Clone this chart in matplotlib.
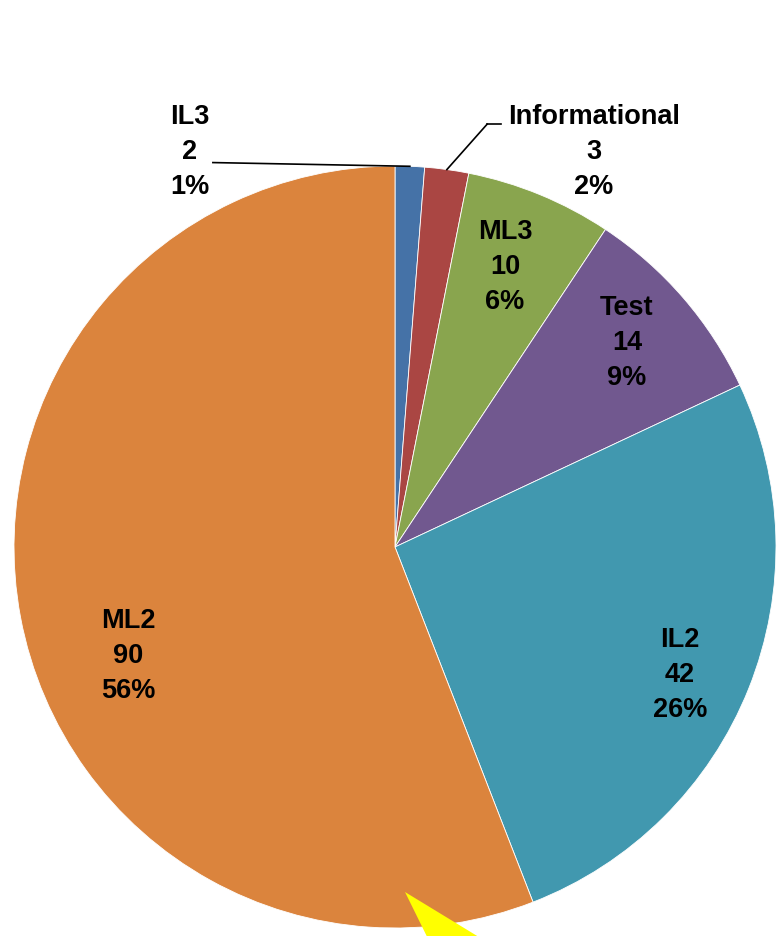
import numpy as np
import matplotlib.pyplot as plt
from matplotlib.patches import Polygon

# data
categories = ['IL3', 'Informational', 'ML3', 'Test', 'IL2', 'ML2']
counts = [2, 3, 10, 14, 42, 90]
percents = ['1%', '2%', '6%', '9%', '26%', '56%']
colors = ['#4572A7', '#AA4643', '#89A54E', '#71588F', '#4198AF', '#DB843D']

# label placement (data units, pie radius = 1)
label_pos = [(-0.538, 1.039), (0.522, 1.039), (0.289, 0.737),
             (0.609, 0.538), (0.748, -0.333), (-0.701, -0.283)]
leader = [True, True, False, False, False, False]

plt.rcParams['font.family'] = ['Liberation Sans', 'DejaVu Sans']

fig = plt.figure(figsize=(7.79, 9.37), dpi=100)
W, H = 779, 937
cx, cy, r = 395, 937 - 548, 381
ax = fig.add_axes([(cx - r) / W, (cy - r) / H, 2 * r / W, 2 * r / H])

wedges, _ = ax.pie(counts, colors=colors, startangle=90, counterclock=False,
                   radius=1, wedgeprops=dict(edgecolor='white', linewidth=0.6))
ax.set_xlim(-1, 1)
ax.set_ylim(-1, 1)
ax.set_aspect('equal')
ax.axis('off')

for w, cat, n, p, pos, ld in zip(wedges, categories, counts, percents, label_pos, leader):
    ax.text(pos[0], pos[1], f'{cat}\n{n}\n{p}', ha='center', va='center',
            fontsize=19.5, fontweight='bold', linespacing=1.44, color='black')
    if ld:
        mid = np.deg2rad((w.theta1 + w.theta2) / 2)
        ex, ey = np.cos(mid), np.sin(mid)
        if pos[0] < 0:
            ax.plot([pos[0] + 0.06, ex], [pos[1] - 0.03, ey], color='black', lw=1.2,
                    clip_on=False)
        else:
            ax.plot([pos[0] - 0.28, pos[0] - 0.245], [1.110, 1.110], color='black', lw=1.2,
                    clip_on=False)
            ax.plot([pos[0] - 0.28, ex], [1.110, ey], color='black', lw=1.2,
                    clip_on=False)

# yellow callout pointer at the bottom
tri = Polygon([(405 / W, 1 - 893 / H), (438 / W, 1 - 960 / H), (515 / W, 1 - 960 / H)],
              closed=True, transform=fig.transFigure, facecolor='#FFFF00',
              edgecolor='none')
fig.patches.append(tri)

fig.savefig('out.png', dpi=100)
